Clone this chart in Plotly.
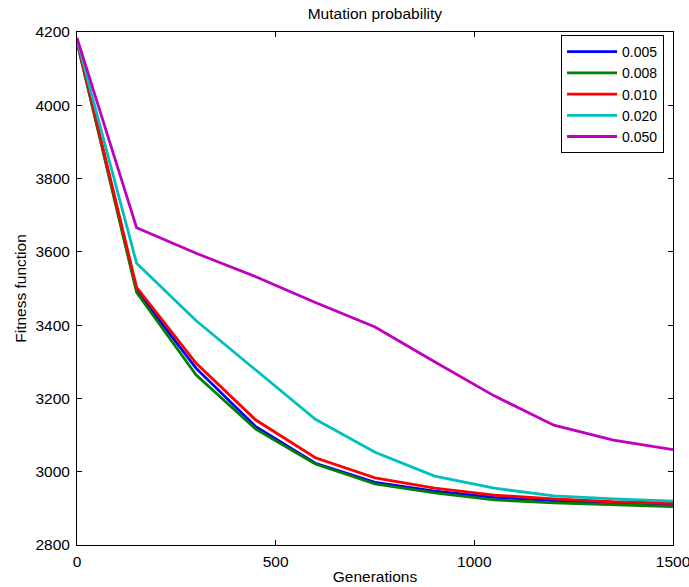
import plotly.graph_objects as go

generations = [0, 150, 300, 450, 600, 750, 900, 1050, 1200, 1350, 1500]
labels = ["0.005", "0.008", "0.010", "0.020", "0.050"]
fit_005 = [4175, 3494, 3282, 3123, 3023, 2971, 2947, 2930, 2921, 2914, 2911]
fit_008 = [4172, 3489, 3264, 3116, 3021, 2967, 2942, 2923, 2915, 2910, 2905]
fit_010 = [4177, 3503, 3296, 3141, 3038, 2983, 2955, 2936, 2926, 2918, 2914]
fit_020 = [4180, 3569, 3412, 3278, 3143, 3053, 2988, 2955, 2934, 2926, 2920]
fit_050 = [4184, 3666, 3596, 3532, 3462, 3395, 3300, 3207, 3127, 3086, 3060]
series = [fit_005, fit_008, fit_010, fit_020, fit_050]
colors = ["rgb(0,0,255)", "rgb(0,128,0)", "rgb(255,0,0)", "rgb(0,191,191)", "rgb(191,0,191)"]

FONT = "Liberation Sans, Arial, sans-serif"

fig = go.Figure()
for lab, ys, c in zip(labels, series, colors):
    fig.add_trace(go.Scatter(x=generations, y=ys, mode="lines", name=lab,
                             line=dict(color=c, width=2.8)))

axis_common = dict(showline=True, linecolor="black", linewidth=1, mirror="ticks",
                   ticks="inside", ticklen=5, tickcolor="black", tickwidth=1,
                   showgrid=False, zeroline=False, ticklabeloverflow="allow",
                   automargin=False,
                   tickfont=dict(family=FONT, size=15.5, color="black"))

fig.update_layout(
    width=689, height=587,
    margin=dict(l=77, r=16, t=32, b=42),
    paper_bgcolor="white", plot_bgcolor="white",
    font=dict(family=FONT, size=15.5, color="black"),
    title=dict(text="Mutation probability", x=0.5441, xanchor="center",
               y=1 - 14 / 587, yanchor="middle", yref="container",
               font=dict(family=FONT, size=15.5, color="black")),
    xaxis=dict(range=[0, 1500], tickvals=[0, 500, 1000, 1500],
               title=dict(text="Generations", standoff=2,
                          font=dict(family=FONT, size=15.5)),
               ticklabelstandoff=2, **axis_common),
    yaxis=dict(range=[2800, 4200], tickvals=list(range(2800, 4201, 200)),
               title=dict(text="Fitness function", standoff=4,
                          font=dict(family=FONT, size=15.5)),
               ticklabelstandoff=3, **axis_common),
    legend=dict(x=0.985, xanchor="right", y=0.994, yanchor="top",
                bordercolor="black", borderwidth=1, bgcolor="white",
                font=dict(family=FONT, size=14, color="black"),
                tracegroupgap=0, itemwidth=50),
    showlegend=True,
)

fig.write_html("out.html")
